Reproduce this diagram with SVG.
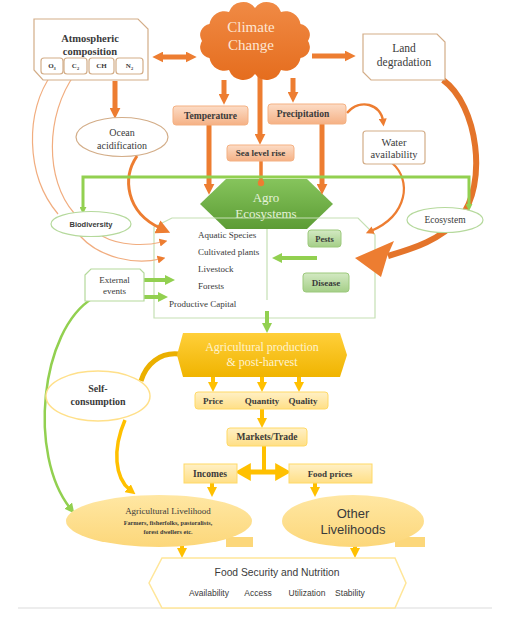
<svg xmlns="http://www.w3.org/2000/svg" width="514" height="622" viewBox="0 0 514 622">
<defs>
<linearGradient id="gCloud" x1="0" y1="0" x2="0" y2="1"><stop offset="0" stop-color="#f08a45"/><stop offset="1" stop-color="#e56d1e"/></linearGradient>
<linearGradient id="gOBox" x1="0" y1="0" x2="0" y2="1"><stop offset="0" stop-color="#fcdcc6"/><stop offset="1" stop-color="#f5b185"/></linearGradient>
<linearGradient id="gGHex" x1="0" y1="0" x2="0" y2="1"><stop offset="0" stop-color="#86c45c"/><stop offset="1" stop-color="#5c9c35"/></linearGradient>
<linearGradient id="gGBox" x1="0" y1="0" x2="0" y2="1"><stop offset="0" stop-color="#d3e9c3"/><stop offset="1" stop-color="#a5cf88"/></linearGradient>
<linearGradient id="gYHex" x1="0" y1="0" x2="0" y2="1"><stop offset="0" stop-color="#ffcf3a"/><stop offset="1" stop-color="#f0b400"/></linearGradient>
<linearGradient id="gYBox" x1="0" y1="0" x2="0" y2="1"><stop offset="0" stop-color="#fff0c6"/><stop offset="1" stop-color="#ffdf86"/></linearGradient>
<linearGradient id="gYEl" x1="0" y1="0" x2="0" y2="1"><stop offset="0" stop-color="#ffe7a3"/><stop offset="1" stop-color="#fcd77a"/></linearGradient>
<marker id="ao" viewBox="0 0 10 10" refX="3" refY="5" markerWidth="11" markerHeight="11" markerUnits="userSpaceOnUse" orient="auto-start-reverse"><path d="M0,0 L10,5 L0,10 z" fill="#ed7d31"/></marker>
<marker id="aoS" viewBox="0 0 10 10" refX="3" refY="5" markerWidth="8" markerHeight="8" markerUnits="userSpaceOnUse" orient="auto"><path d="M0,0 L10,5 L0,10 z" fill="#ed7d31"/></marker>
<marker id="aoL" viewBox="0 0 10 10" refX="2" refY="5" markerWidth="14" markerHeight="14" markerUnits="userSpaceOnUse" orient="auto"><path d="M0,0 L10,5 L0,10 z" fill="#ed7d31"/></marker>
<marker id="ag" viewBox="0 0 10 10" refX="3" refY="5" markerWidth="10" markerHeight="10" markerUnits="userSpaceOnUse" orient="auto-start-reverse"><path d="M0,0 L10,5 L0,10 z" fill="#92d050"/></marker>
<marker id="agS" viewBox="0 0 10 10" refX="3" refY="5" markerWidth="7" markerHeight="7" markerUnits="userSpaceOnUse" orient="auto-start-reverse"><path d="M0,0 L10,5 L0,10 z" fill="#92d050"/></marker>
<marker id="ay" viewBox="0 0 10 10" refX="3" refY="5" markerWidth="10" markerHeight="10" markerUnits="userSpaceOnUse" orient="auto-start-reverse"><path d="M0,0 L10,5 L0,10 z" fill="#ffc000"/></marker>
<marker id="ayB" viewBox="0 0 10 10" refX="3" refY="5" markerWidth="16" markerHeight="18" markerUnits="userSpaceOnUse" orient="auto-start-reverse" preserveAspectRatio="none"><path d="M0,0 L10,5 L0,10 z" fill="#ffc000"/></marker>
<style>
.serif{font-family:"Liberation Serif","Times New Roman",serif}
.sans{font-family:"Liberation Sans",Arial,sans-serif}
text{fill:#3a3a3a;text-anchor:middle;dominant-baseline:central}
.b{font-weight:bold}
.tan{fill:#fff;stroke:#d3ad88;stroke-width:1.2}
.obox{fill:url(#gOBox);stroke:#f4b183;stroke-width:1}
.gbox{fill:url(#gGBox);stroke:#9cc97c;stroke-width:1}
.ybox{fill:url(#gYBox);stroke:#ffd966;stroke-width:1}
.gel{fill:#fff;stroke:#b5d99c;stroke-width:1.2}
.oa{stroke:#ed7d31;fill:none;stroke-width:5;marker-end:url(#ao)}
.ga{stroke:#92d050;fill:none;stroke-width:4;marker-end:url(#ag)}
.ya{stroke:#ffc000;fill:none;stroke-width:4;marker-end:url(#ay)}
.thin{stroke:#f1ad7f;fill:none;stroke-width:1.2}
</style>
</defs>
<rect x="0" y="0" width="514" height="622" fill="#fff"/>
<line x1="18" y1="608" x2="492" y2="608" stroke="#dcdcdc" stroke-width="1.2"/>

<g id="agro">
<polygon points="200,204 226,179 307,179 333,204 307,229 226,229" fill="url(#gGHex)"/>
<text class="serif" x="266" y="197" font-size="13" style="fill:#e4f2da">Agro</text>
<text class="serif" x="266" y="213" font-size="13" style="fill:#e4f2da">Ecosystems</text>
</g>

<g id="agro-components">
<path d="M154,227 L172,218 L358,218 L375,235 L375,318 L154,318 Z" fill="none" stroke="#c5e0b4" stroke-width="1.2"/>
<line x1="267" y1="229" x2="267" y2="300" stroke="#c5e0b4" stroke-width="1.2"/>
<g class="serif" font-size="9">
<text x="198" y="235" style="text-anchor:start">Aquatic Species</text>
<text x="198" y="252" style="text-anchor:start">Cultivated plants</text>
<text x="198" y="269" style="text-anchor:start">Livestock</text>
<text x="198" y="286" style="text-anchor:start">Forests</text>
<text x="169" y="304" style="text-anchor:start">Productive Capital</text>
</g>
</g>

<g id="connectors">
<line x1="160" y1="57" x2="189" y2="57" class="oa" marker-start="url(#ao)"/>
<line x1="312" y1="56" x2="348" y2="56" class="oa"/>
<line x1="115" y1="81" x2="115" y2="111" class="oa"/>
<line x1="224" y1="80" x2="224" y2="97" class="oa"/>
<line x1="260" y1="76" x2="260" y2="137" class="oa" stroke-width="3.5"/>
<line x1="293" y1="78" x2="293" y2="95" class="oa"/>
<line x1="209" y1="125" x2="209" y2="187" class="oa"/>
<line x1="322" y1="124" x2="322" y2="187" class="oa"/>
<line x1="261" y1="161" x2="261" y2="182" stroke="#ed7d31" stroke-width="3.5"/>
<circle cx="261" cy="183" r="3.2" fill="#ed7d31"/>
<path d="M137,156 C122,178 126,212 160,228" fill="none" stroke="#ed7d31" stroke-width="3" marker-end="url(#aoL)"/>
<path d="M347,113 C360,98 381,104 383,121" fill="none" stroke="#ed7d31" stroke-width="2.5" marker-end="url(#aoS)"/>
<path d="M392,163 C412,180 408,215 371,231" fill="none" stroke="#ed7d31" stroke-width="2.2" marker-end="url(#aoS)"/>
<path d="M443,80 C478,105 488,185 460,218 C440,240 415,248 388,256" fill="none" stroke="#e4742a" stroke-width="6"/>
<polygon points="355,258 394,241 387,257 381,277" fill="#ed7d31"/>
<path d="M52,74 C25,110 25,175 58,214" class="thin"/>
<path d="M75,74 C45,115 45,180 74,213" class="thin"/>
<path d="M80,236 C100,258 135,265 160,259" class="thin" marker-end="url(#aoS)"/>
<path d="M102,236 C120,246 145,246 162,242" class="thin" marker-end="url(#aoS)"/>
<polyline points="83,209 83,177 469,177 469,206" fill="none" stroke="#92d050" stroke-width="3" marker-start="url(#agS)" marker-end="url(#agS)"/>
<line x1="317" y1="258" x2="279" y2="258" class="ga"/>
<line x1="144" y1="280" x2="168" y2="280" class="ga"/>
<line x1="144" y1="297" x2="161" y2="297" class="ga"/>
<line x1="267" y1="311" x2="267" y2="326" class="ga"/>
<path d="M93,298 C40,330 28,455 70,508" fill="none" stroke="#92d050" stroke-width="2.5" marker-end="url(#ag)"/>
<path d="M179,354 C160,352 146,364 141,381" fill="none" stroke="#ebb000" stroke-width="5"/>
<path d="M125,420 C112,450 115,478 130,490" fill="none" stroke="#ffc000" stroke-width="3.5" marker-end="url(#ay)"/>
<line x1="213" y1="377" x2="213" y2="385" class="ya"/>
<line x1="262" y1="377" x2="262" y2="385" class="ya"/>
<line x1="299" y1="377" x2="299" y2="385" class="ya"/>
<line x1="262" y1="409" x2="262" y2="421" class="ya"/>
<line x1="264" y1="446" x2="264" y2="473" stroke="#ffc000" stroke-width="4"/>
<line x1="246" y1="472" x2="280" y2="472" stroke="#ffc000" stroke-width="5" marker-start="url(#ayB)" marker-end="url(#ayB)"/>
<line x1="212" y1="483" x2="212" y2="490" class="ya"/>
<line x1="315" y1="483" x2="315" y2="490" class="ya"/>
<line x1="182" y1="546" x2="182" y2="551" class="ya"/>
<line x1="355" y1="546" x2="355" y2="551" class="ya"/>
</g>

<g id="atmospheric-composition">
<path d="M34,19 L138,19 L148,29 L148,80 L43,80 L34,70 Z" class="tan"/>
<text class="serif b" x="90" y="38" font-size="10.5">Atmospheric</text>
<text class="serif b" x="90" y="51" font-size="10.5">composition</text>
<rect x="41" y="58" width="22" height="16" rx="3" class="tan"/>
<rect x="64" y="58" width="23" height="16" rx="3" class="tan"/>
<rect x="89" y="58" width="25" height="16" rx="3" class="tan"/>
<rect x="116" y="58" width="27" height="16" rx="3" class="tan"/>
<text class="serif b" x="52" y="66" font-size="7">O<tspan font-size="4.5" dy="1.5">3</tspan></text>
<text class="serif b" x="75.5" y="66" font-size="7">C<tspan font-size="4.5" dy="1.5">2</tspan></text>
<text class="serif b" x="101.5" y="66" font-size="7">CH</text>
<text class="serif b" x="129.5" y="66" font-size="7">N<tspan font-size="4.5" dy="1.5">2</tspan></text>
</g>

<g id="climate-change">
<path d="M308,41 A11 11 0 0 1 300.5,58 A15 15 0 0 1 281,70 A15 15 0 0 1 255,74 A15 15 0 0 1 229,70 A15 15 0 0 1 209.5,58 A11 11 0 0 1 202,41 A11 11 0 0 1 209.5,24 A15 15 0 0 1 229,12 A15 15 0 0 1 255,8 A15 15 0 0 1 281,12 A15 15 0 0 1 300.5,24 A11 11 0 0 1 308,41 Z" fill="url(#gCloud)"/>
<text class="serif" x="251" y="27" font-size="15" style="fill:#fde6d4">Climate</text>
<text class="serif" x="251" y="45" font-size="15" style="fill:#fde6d4">Change</text>
</g>

<g id="land-degradation">
<path d="M363,34 L437,34 L445,42 L445,80 L371,80 L363,72 Z" class="tan"/>
<text class="serif" x="404" y="48" font-size="11.5">Land</text>
<text class="serif" x="404" y="62" font-size="11.5">degradation</text>
</g>

<g id="temperature">
<rect x="173" y="106" width="75" height="19" rx="3" class="obox"/>
<text class="serif b" x="210.5" y="115.5" font-size="9.5">Temperature</text>
</g>

<g id="precipitation">
<rect x="268" y="104" width="78" height="20" rx="3" class="obox"/>
<text class="serif b" x="303" y="114" font-size="9.5">Precipitation</text>
</g>

<g id="sea-level-rise">
<rect x="227" y="145" width="67" height="16" rx="3" class="obox"/>
<text class="serif b" x="260.5" y="153" font-size="9">Sea level rise</text>
</g>

<g id="ocean-acidification">
<ellipse cx="122" cy="137" rx="46" ry="19.5" class="tan"/>
<text class="serif" x="122" y="132" font-size="10">Ocean</text>
<text class="serif" x="122" y="145" font-size="10">acidification</text>
</g>

<g id="water-availability">
<rect x="363" y="131" width="62" height="33" rx="3" class="tan"/>
<text class="serif" x="394" y="142" font-size="10.5">Water</text>
<text class="serif" x="394" y="154" font-size="10.5">availability</text>
</g>

<g id="biodiversity">
<ellipse cx="91" cy="224" rx="40" ry="12.5" class="gel"/>
<text class="sans b" x="91" y="224" font-size="7.5">Biodiversity</text>
</g>

<g id="ecosystem">
<ellipse cx="445" cy="220" rx="38" ry="12.5" class="gel"/>
<text class="serif" x="445" y="220" font-size="9.5">Ecosystem</text>
</g>

<g id="pests">
<rect x="308" y="230" width="33" height="17" rx="3" class="gbox"/>
<text class="serif b" x="324.5" y="238.5" font-size="8.5">Pests</text>
</g>

<g id="disease">
<rect x="303" y="273" width="46" height="19" rx="3" class="gbox"/>
<text class="serif b" x="326" y="282.5" font-size="9">Disease</text>
</g>

<g id="external-events">
<path d="M85,275 L91,269 L140,269 L144,273 L144,301 L85,301 Z" fill="#fff" stroke="#b5d99c" stroke-width="1.2"/>
<text class="serif" x="114.5" y="280" font-size="9">External</text>
<text class="serif" x="114.5" y="291" font-size="9">events</text>
</g>

<g id="agricultural-production">
<polygon points="183,333 340,333 347,355 340,377 183,377 177,355" fill="url(#gYHex)"/>
<text class="serif" x="262" y="347" font-size="12" style="fill:#fff3cf">Agricultural production</text>
<text class="serif" x="262" y="362" font-size="12" style="fill:#fff3cf">&amp; post-harvest</text>
</g>

<g id="price-quantity-quality">
<rect x="195" y="392" width="133" height="17" rx="3" class="ybox"/>
<text class="serif b" x="213" y="400.5" font-size="9">Price</text>
<text class="serif b" x="262" y="400.5" font-size="9">Quantity</text>
<text class="serif b" x="303" y="400.5" font-size="9">Quality</text>
</g>

<g id="markets-trade">
<rect x="227" y="428" width="80" height="18" rx="3" class="ybox"/>
<text class="serif b" x="267" y="437" font-size="9.5">Markets/Trade</text>
</g>

<g id="incomes">
<rect x="184" y="464" width="53" height="19" class="ybox"/>
<text class="serif b" x="210" y="473.5" font-size="9.5">Incomes</text>
</g>

<g id="food-prices">
<rect x="289" y="464" width="83" height="19" class="ybox"/>
<text class="serif b" x="330" y="473.5" font-size="9">Food prices</text>
</g>

<g id="self-consumption">
<ellipse cx="98" cy="396" rx="52" ry="25" fill="#fff" stroke="#ffe08a" stroke-width="1.5"/>
<text class="serif b" x="98" y="388" font-size="10">Self-</text>
<text class="serif b" x="98" y="401" font-size="10">consumption</text>
</g>

<g id="agricultural-livelihood">
<rect x="226" y="537" width="27" height="10" fill="#fcd77a"/>
<ellipse cx="159" cy="521" rx="93" ry="26" fill="url(#gYEl)"/>
<text class="serif" x="168" y="511" font-size="9">Agricultural Livelihood</text>
<text class="serif b" x="168" y="522" font-size="6.2">Farmers, fisherfolks, pastoralists,</text>
<text class="serif b" x="168" y="531" font-size="6.2">forest dwellers etc.</text>
</g>

<g id="other-livelihoods">
<rect x="395" y="537" width="30" height="10" fill="#fcd77a"/>
<ellipse cx="353" cy="521" rx="71" ry="26" fill="url(#gYEl)"/>
<text class="sans" x="353" y="513" font-size="13">Other</text>
<text class="sans" x="353" y="529" font-size="13">Livelihoods</text>
</g>

<g id="food-security">
<polygon points="149,583 162,558 395,558 406,583 395,608 162,608" fill="#fff" stroke="#ffe699" stroke-width="1.5"/>
<text class="sans" x="277" y="572" font-size="10.3">Food Security and Nutrition</text>
<text class="sans" x="209" y="593" font-size="8.5">Availability</text>
<text class="sans" x="258" y="593" font-size="8.5">Access</text>
<text class="sans" x="307" y="593" font-size="8.5">Utilization</text>
<text class="sans" x="350" y="593" font-size="8.5">Stability</text>
</g>
</svg>
